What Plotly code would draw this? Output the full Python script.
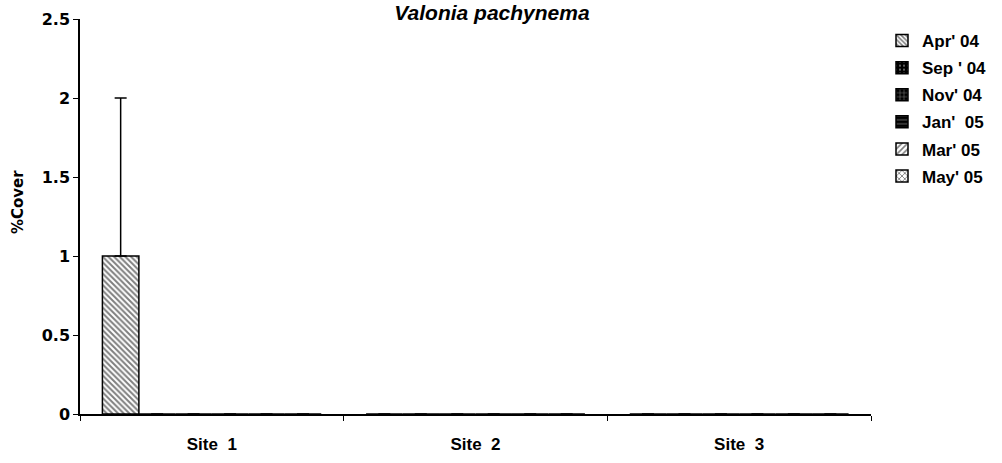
import plotly.graph_objects as go

sites = ["Site  1", "Site  2", "Site  3"]
series_names = ["Apr' 04", "Sep ' 04", "Nov' 04", "Jan'  05", "Mar' 05", "May' 05"]
values = {
    "Apr' 04": [1, 0, 0],
    "Sep ' 04": [0, 0, 0],
    "Nov' 04": [0, 0, 0],
    "Jan'  05": [0, 0, 0],
    "Mar' 05": [0, 0, 0],
    "May' 05": [0, 0, 0],
}
errors = {
    "Apr' 04": [1, None, None],
    "Sep ' 04": [None, None, None],
    "Nov' 04": [None, None, None],
    "Jan'  05": [None, None, None],
    "Mar' 05": [None, None, None],
    "May' 05": [None, None, None],
}
y_ticks = [0, 0.5, 1, 1.5, 2, 2.5]
y_ticktext = ["0", "0.5", "1", "1.5", "2", "2.5"]
title_text = "Valonia pachynema"
y_title = "%Cover"

styles = {
    "Apr' 04": dict(bg="white", fg="black", shape="\\", size=4, solidity=0.5),
    "Sep ' 04": dict(bg="black", fg="white", shape=".", size=5, solidity=0.2),
    "Nov' 04": dict(bg="black", fg="white", shape="+", size=5, solidity=0.25),
    "Jan'  05": dict(bg="black", fg="white", shape="-", size=5, solidity=0.2),
    "Mar' 05": dict(bg="white", fg="black", shape="/", size=5, solidity=0.4),
    "May' 05": dict(bg="white", fg="black", shape="x", size=5, solidity=0.4),
}

fig = go.Figure()
for i, name in enumerate(series_names):
    st = styles[name]
    fig.add_trace(go.Bar(
        x=sites, y=values[name], name=f"<b>{name}</b>", legendgroup=f"g{i}",
        marker=dict(color=st["bg"], line=dict(color="black", width=1.5),
                    pattern=dict(shape=st["shape"], fgcolor=st["fg"], bgcolor=st["bg"],
                                 size=st["size"], solidity=st["solidity"], fillmode="overlay")),
        error_y=dict(type="data", array=errors[name], arrayminus=[0, 0, 0], symmetric=False,
                     color="black", thickness=1.5, width=6, visible=True),
    ))

W, H = 1002, 463
L, R, T, B = 80, 131, 19, 49
pw = W - L - R
ph = H - T - B

fig.update_layout(
    width=W, height=H,
    margin=dict(l=L, r=R, t=T, b=B, autoexpand=False),
    paper_bgcolor="white", plot_bgcolor="white",
    barmode="group", bargap=0.17, bargroupgap=0,
    showlegend=True,
    legend=dict(x=(882 - L) / pw, y=1 - (23 - T) / ph, xanchor="left", yanchor="top",
                font=dict(family="Liberation Sans, Arial", size=17, color="black"),
                tracegroupgap=2, itemwidth=30, bgcolor="rgba(0,0,0,0)", traceorder="grouped"),
    title=dict(text=f"<b><i>{title_text}</i></b>", x=492 / W, xanchor="center",
               y=1 - 13 / H, yanchor="middle", pad=dict(t=0, b=0),
               font=dict(family="Liberation Sans, Arial", size=21, color="black")),
    font=dict(family="DejaVu Sans, Verdana", color="black"),
)

fig.update_xaxes(
    type="category", showline=True, linecolor="black", linewidth=1.5,
    ticks="outside", tickson="boundaries", ticklen=5, tickcolor="black",
    ticktext=[f"<b>{s}</b>" for s in sites], tickvals=sites,
    tickfont=dict(family="Liberation Sans, Arial", size=17, color="black"),
    ticklabelstandoff=14, automargin=False,
    showgrid=False, zeroline=False,
)
fig.update_yaxes(
    range=[0, 2.5], tickvals=y_ticks, ticktext=[f"<b>{t}</b>" for t in y_ticktext],
    showline=True, linecolor="black", linewidth=1.5, automargin=False,
    ticks="outside", ticklen=5, tickcolor="black", showgrid=False, zeroline=False,
    tickfont=dict(family="DejaVu Sans, Verdana", size=16, color="black"),
)

# y-axis title placed as in the original
fig.add_annotation(text=f"<b>{y_title}</b>", x=-(L - 18) / pw, xref="paper",
                   y=1 - (202 - T) / ph, yref="paper", textangle=-90,
                   xanchor="center", yanchor="middle", showarrow=False,
                   font=dict(family="DejaVu Sans, Verdana", size=15, color="black"))

fig.write_html("out.html")
